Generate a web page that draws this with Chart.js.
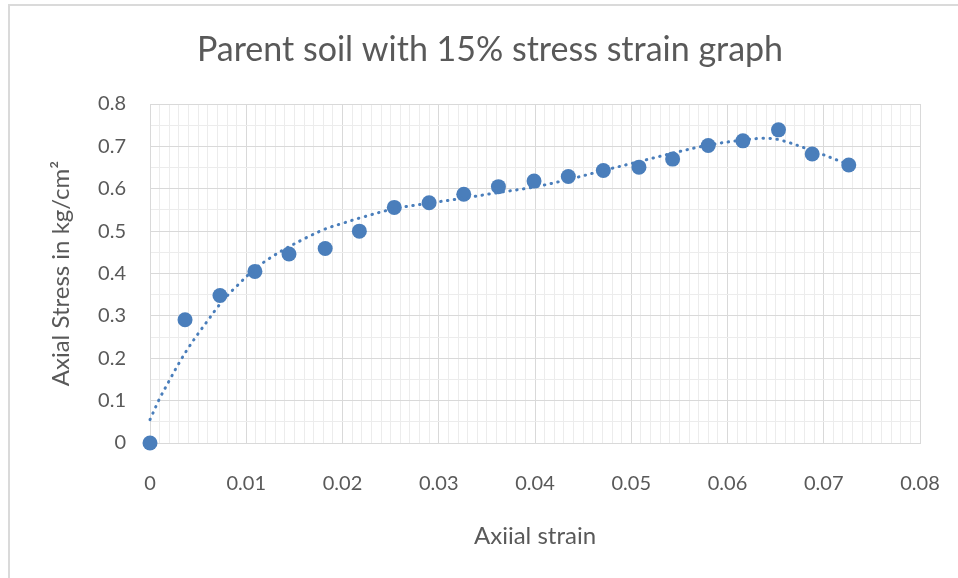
<!DOCTYPE html>
<html>
<head>
<meta charset="utf-8">
<script src="https://cdn.jsdelivr.net/npm/chart.js@4.4.1/dist/chart.umd.min.js"></script>
<style>
  html, body { margin: 0; padding: 0; background: #ffffff; }
  canvas { display: block; }
</style>
</head>
<body>
<canvas id="c" width="958" height="578"></canvas>
<script>
// Measured data points (Axial strain, Axial stress)
const strain = [0, 0.00364, 0.00727, 0.0109, 0.01444, 0.0182, 0.02175, 0.02538, 0.029, 0.0326, 0.0362,
                0.0399, 0.04346, 0.0471, 0.0508, 0.0543, 0.058, 0.0616, 0.0653, 0.0688, 0.0726];
const stress = [0, 0.291, 0.348, 0.405, 0.446, 0.459, 0.500, 0.556, 0.567, 0.587, 0.605,
                0.618, 0.629, 0.643, 0.651, 0.670, 0.702, 0.713, 0.739, 0.682, 0.656];

// Polynomial trendline
const trendX = [0, 0.001, 0.002, 0.003, 0.004, 0.005, 0.006, 0.007, 0.008, 0.009, 0.0108, 0.0125, 0.0142,
                0.0162, 0.0182, 0.0201, 0.0218, 0.0254, 0.029, 0.0326, 0.0362, 0.0399, 0.0435, 0.0471,
                0.0508, 0.0543, 0.058, 0.0616, 0.0637, 0.0653, 0.0688, 0.0726];
const trendY = [0.055, 0.105, 0.147, 0.188, 0.225, 0.258, 0.289, 0.320, 0.347, 0.370, 0.409, 0.437, 0.460,
                0.484, 0.505, 0.519, 0.531, 0.553, 0.566, 0.578, 0.591, 0.604, 0.622, 0.643,
                0.664, 0.684, 0.703, 0.715, 0.719, 0.716, 0.690, 0.657];

const xMin = 0, xMax = 0.08, xMinorStep = 0.001, xMajorEvery = 10;
const yMin = 0, yMax = 0.8, yMinorStep = 0.05, yMajorEvery = 2;

const titleText = 'Parent soil with 15% stress strain graph';
const xTitle = 'Axiial strain';
const yTitle = 'Axial Stress in kg/cm²';

const blue = '#4A7EBB';
const textGray = '#595959';
const majorGrid = '#d9d9d9';
const minorGrid = '#ececec';
const FONT = 'Lato, "Open Sans", sans-serif';

const pts = strain.map((x, i) => ({ x: x, y: stress[i] }));
const trend = trendX.map((x, i) => ({ x: x, y: trendY[i] }));

function fmt(v) { return String(Number(v.toFixed(3))); }

const frame = {
  id: 'frame',
  beforeDraw(chart) {
    const c = chart.ctx;
    c.save();
    c.fillStyle = '#ffffff';
    c.fillRect(0, 0, chart.width, chart.height);
    c.strokeStyle = '#dadada';
    c.lineWidth = 2;
    c.beginPath();
    c.moveTo(9, chart.height);
    c.lineTo(9, 5);
    c.lineTo(chart.width, 5);
    c.stroke();
    c.restore();
  }
};

new Chart(document.getElementById('c'), {
  type: 'scatter',
  data: {
    datasets: [
      {
        label: 'Trendline',
        type: 'line',
        data: trend,
        borderColor: blue,
        borderWidth: 3,
        borderDash: [0.5, 6.5],
        borderCapStyle: 'round',
        pointRadius: 0,
        fill: false,
        tension: 0.35,
        clip: false
      },
      {
        label: 'Stress',
        data: pts,
        backgroundColor: blue,
        borderColor: blue,
        pointRadius: 7.5,
        pointHoverRadius: 7.5,
        borderWidth: 0,
        clip: false
      }
    ]
  },
  options: {
    responsive: false,
    animation: false,
    events: [],
    layout: { padding: { top: 10, left: 60, right: 38, bottom: 10 } },
    plugins: {
      legend: { display: false },
      tooltip: { enabled: false },
      title: {
        display: true,
        text: titleText,
        color: textGray,
        font: { family: FONT, size: 34, weight: 'normal', lineHeight: 1.2 },
        padding: { top: 19.6, bottom: 33.6 }
      }
    },
    scales: {
      x: {
        type: 'linear',
        min: xMin, max: xMax,
        afterFit(s) { s.height = 125; s.paddingLeft = 0; s.paddingRight = 0; },
        ticks: {
          stepSize: xMinorStep,
          autoSkip: false,
          maxRotation: 0,
          padding: 29,
          color: textGray,
          font: { family: FONT, size: 20 },
          callback: (v, i) => (i % xMajorEvery === 0 ? fmt(v) : '')
        },
        grid: {
          drawTicks: false,
          lineWidth: 1,
          color: (ctx) => (ctx.index % xMajorEvery === 0 ? majorGrid : minorGrid)
        },
        border: { color: majorGrid, width: 1 },
        title: {
          display: true,
          text: xTitle,
          color: textGray,
          font: { family: FONT, size: 24 },
          padding: { top: 0, bottom: 17 }
        }
      },
      y: {
        type: 'linear',
        min: yMin, max: yMax,
        afterFit(s) { s.width = 90; },
        ticks: {
          stepSize: yMinorStep,
          autoSkip: false,
          padding: 24,
          color: textGray,
          font: { family: FONT, size: 20 },
          callback: (v, i) => (i % yMajorEvery === 0 ? fmt(v) : '')
        },
        grid: {
          drawTicks: false,
          lineWidth: 1,
          color: (ctx) => (ctx.index % yMajorEvery === 0 ? majorGrid : minorGrid)
        },
        border: { color: majorGrid, width: 1 },
        title: {
          display: true,
          text: yTitle,
          color: textGray,
          font: { family: FONT, size: 24 },
          padding: { top: -13, bottom: 0 }
        }
      }
    }
  },
  plugins: [frame]
});
</script>
</body>
</html>
